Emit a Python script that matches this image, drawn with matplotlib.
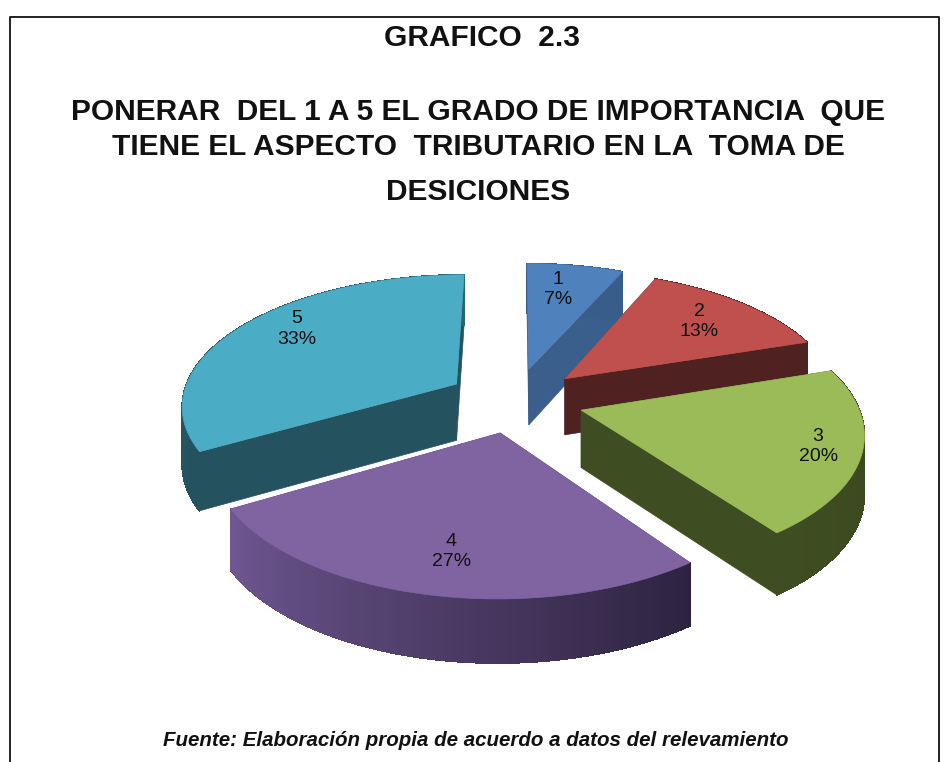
import numpy as np
import matplotlib
matplotlib.use('Agg')
import matplotlib.pyplot as plt
from matplotlib.patches import Polygon

plt.rcParams['font.family'] = ['Liberation Sans', 'DejaVu Sans']

categories = ['1', '2', '3', '4', '5']
counts = [1, 2, 3, 4, 5]
title_main = 'GRAFICO  2.3'
title_lines = ['PONERAR  DEL 1 A 5 EL GRADO DE IMPORTANCIA  QUE',
               'TIENE EL ASPECTO  TRIBUTARIO EN LA  TOMA DE',
               'DESICIONES']
source = 'Fuente: Elaboración propia de acuerdo a datos del relevamiento'

TOP = ['#4f81bd', '#c0504d', '#9bbb59', '#8064a2', '#4bacc6']
SIDE_A = ['#385d8a', '#4f2120', '#3f4d22', '#6f5791', '#2a6272']
SIDE_B = ['#385d8a', '#4f2120', '#3a4720', '#2d2340', '#24525f']
WALL = ['#3b5f8c', '#4f2120', '#3f4d22', '#4a3a60', '#25525f']

CX, CY = 515, 400
R = 275
TILT = 130
PERSP = 0.15
DROP = 57
EXPLODE = 0.25
LABEL_R = [0.74, 0.74, 0.85, 0.76, 0.80]
LABEL_SHIFT = [-2, 0, 0, -1, 6]
DRAW_ORDER = [0, 1, 4, 2, 3]


def project(x, y, drop=0):
    w = 1 + PERSP * y
    return CX + R * x / w, CY - TILT * y / w + drop * (1 - 0.1 * y)


def slice_point(i, ang, r):
    # ang is clockwise from 12 o'clock, in degrees
    mid = np.radians((edges[i] + edges[i + 1]) / 2)
    x = EXPLODE * np.sin(mid) + r * np.sin(np.radians(ang))
    y = EXPLODE * np.cos(mid) + r * np.cos(np.radians(ang))
    return x, y


total = sum(counts)
edges = np.concatenate([[0], np.cumsum(counts) / total * 360])

fig = plt.figure(figsize=(9.5, 7.62), dpi=100)
ax = fig.add_axes([0, 0, 1, 1])
ax.set_xlim(0, 950)
ax.set_ylim(762, 0)
ax.axis('off')

# picture frame, open at the bottom
ax.plot([10, 10, 939, 939], [762, 17, 17, 762], color='#222222', lw=1.4)

for i in DRAW_ORDER:
    angs = np.linspace(edges[i], edges[i + 1], 80)
    pts = [slice_point(i, a, 1) for a in angs]
    tip = slice_point(i, 0, 0)

    # the two straight walls, back one first
    walls = [pts[0], pts[-1]]
    walls.sort(key=lambda p: -p[1])
    for p in walls:
        a = project(*tip)
        b = project(*p)
        c = project(*p, DROP)
        d = project(*tip, DROP)
        ax.add_patch(Polygon([a, b, c, d], closed=True, fc=WALL[i], ec=WALL[i], lw=0.5))

    # outer rim, shaded along the arc
    c0 = np.array(matplotlib.colors.to_rgb(SIDE_A[i]))
    c1 = np.array(matplotlib.colors.to_rgb(SIDE_B[i]))
    for k in range(len(pts) - 1):
        t = k / (len(pts) - 2)
        # the arc runs clockwise, so the left end is the last point
        col = c1 * (1 - t) + c0 * t
        q = [project(*pts[k]), project(*pts[k + 1]),
             project(*pts[k + 1], DROP), project(*pts[k], DROP)]
        ax.add_patch(Polygon(q, closed=True, fc=col, ec=col, lw=0.6, antialiased=False))

    top = [project(*tip)] + [project(*p) for p in pts]
    ax.add_patch(Polygon(top, closed=True, fc=TOP[i], ec=TOP[i], lw=0.5))

    mid = (edges[i] + edges[i + 1]) / 2 + LABEL_SHIFT[i]
    lx, ly = project(*slice_point(i, mid, LABEL_R[i]))
    pct = round(counts[i] / total * 100)
    ax.text(lx, ly, f'{categories[i]}\n{pct}%', ha='center', va='center',
            fontsize=14, color='#111111', linespacing=1.25)

ax.text(482, 38, title_main, ha='center', va='center', fontsize=21.5,
        fontweight='bold', color='#111111')
for line, y in zip(title_lines, [112, 147, 192]):
    ax.text(478, y, line, ha='center', va='center', fontsize=21.5,
            fontweight='bold', color='#111111')

ax.text(476, 740, source, ha='center', va='center', fontsize=14.8,
        fontweight='bold', fontstyle='italic', color='#111111')

fig.savefig('out.png', dpi=100, facecolor='white')
